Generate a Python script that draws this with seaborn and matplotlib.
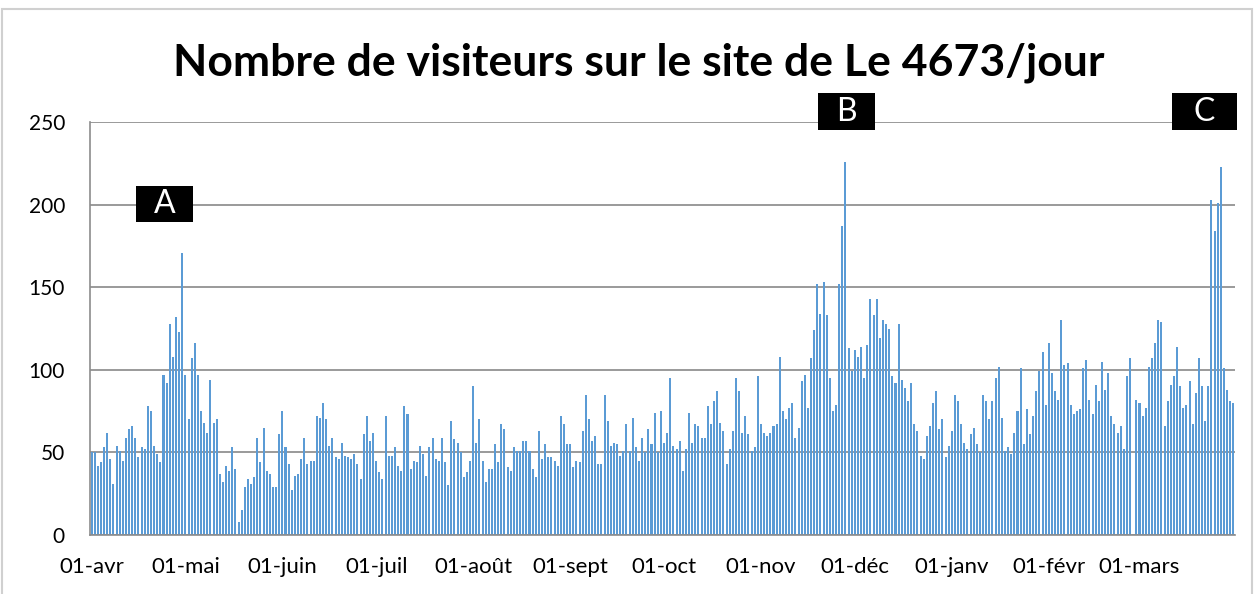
import pandas as pd
import seaborn as sns
import matplotlib.pyplot as plt
from matplotlib.patches import Rectangle

# daily visitors, 01-avr -> 31-mars (366 days)
avr = [50, 50, 42, 44, 53, 62, 46, 31, 54, 51, 45, 59, 64, 66, 59, 47, 53, 52, 78, 75,
       54, 49, 44, 97, 92, 128, 108, 132, 123, 171]
mai = [97, 70, 107, 116, 97, 75, 68, 62, 94, 68, 70, 37, 32, 42, 39, 53, 40, 8, 15, 29,
       34, 31, 35, 59, 44, 65, 39, 37, 29, 29, 61]
juin = [75, 53, 43, 27, 36, 37, 46, 59, 43, 45, 45, 72, 71, 80, 70, 54, 59, 47, 46, 56,
        48, 47, 46, 49, 43, 34, 61, 72, 57, 62]
juil = [45, 38, 34, 72, 48, 48, 53, 42, 39, 78, 73, 40, 45, 44, 54, 49, 36, 53, 59, 46,
        45, 59, 44, 30, 69, 58, 56, 50, 35, 38, 45]
aout = [90, 56, 70, 45, 32, 40, 40, 55, 44, 67, 64, 41, 39, 53, 51, 51, 57, 57, 51, 40,
        35, 63, 46, 55, 47, 47, 45, 42, 72, 67, 55]
sept = [55, 41, 45, 44, 63, 85, 70, 57, 60, 43, 43, 85, 69, 54, 56, 55, 48, 51, 67, 51,
        71, 53, 45, 59, 50, 64, 55, 74, 50, 75]
octo = [56, 62, 95, 54, 52, 57, 39, 52, 74, 56, 67, 66, 59, 59, 78, 67, 81, 87, 68, 63,
        43, 52, 63, 95, 87, 62, 72, 61, 51, 53, 96]
nov = [67, 62, 60, 62, 66, 67, 108, 75, 70, 77, 80, 59, 65, 93, 97, 77, 107, 124, 152, 134,
       153, 133, 95, 75, 79, 152, 187, 226, 113, 99]
dec = [112, 108, 114, 95, 115, 143, 133, 143, 119, 130, 128, 125, 96, 92, 128, 94, 89, 81, 92, 67,
       63, 48, 46, 60, 66, 80, 87, 64, 70, 47, 54]
janv = [63, 85, 81, 67, 56, 52, 61, 65, 55, 50, 85, 81, 70, 81, 95, 102, 71, 51, 53, 49,
        62, 75, 101, 55, 76, 61, 72, 87, 99, 111, 79]
fevr = [116, 98, 87, 82, 130, 103, 104, 79, 73, 75, 76, 101, 106, 82, 73, 91, 81, 105, 88, 98,
        72, 67, 62, 66, 52, 96, 107, 0, 82]
mars = [80, 72, 77, 102, 107, 116, 130, 129, 66, 81, 91, 96, 114, 90, 77, 79, 93, 67, 86, 107,
        90, 69, 90, 203, 184, 201, 223, 101, 88, 81, 80]

months = [avr, mai, juin, juil, aout, sept, octo, nov, dec, janv, fevr, mars]
month_labels = ["01-avr", "01-mai", "01-juin", "01-juil", "01-août", "01-sept",
                "01-oct", "01-nov", "01-déc", "01-janv", "01-févr", "01-mars"]

visitors = [v for m in months for v in m]
days = pd.date_range("2011-04-01", periods=len(visitors), freq="D")
df = pd.DataFrame({"jour": days.strftime("%Y-%m-%d"), "visiteurs": visitors})

sns.set_style("white")
plt.rcParams["font.family"] = ["Lato", "DejaVu Sans"]
plt.rcParams["text.color"] = "black"
plt.rcParams["xtick.labelcolor"] = "black"
plt.rcParams["ytick.labelcolor"] = "black"

fig = plt.figure(figsize=(12.55, 5.94), dpi=100)
ax = fig.add_axes([0.0717, 0.0993, 0.9123, 0.6953])

sns.barplot(data=df, x="jour", y="visiteurs", color="#5B9BD5", saturation=1,
            width=0.65, linewidth=0, ax=ax)

# month ticks
starts = [i for i, d in enumerate(days) if d.day == 1]
ax.set_xticks(starts)
ax.set_xticklabels(month_labels, fontsize=16)
ax.set_xlim(-0.5, len(visitors) - 0.5)
ax.set_ylim(0, 250)
ax.set_yticks(range(0, 251, 50))
ax.tick_params(axis="y", labelsize=15, length=4, color="#8c8c8c", pad=14)
ax.tick_params(axis="x", length=5, color="#8c8c8c", pad=11)
ax.yaxis.grid(True, color="#9a9a9a", linewidth=1.4)
ax.set_axisbelow(True)
ax.set_xlabel("")
ax.set_ylabel("")

for s in ["top", "right"]:
    ax.spines[s].set_visible(False)
for s in ["left", "bottom"]:
    ax.spines[s].set_color("#8c8c8c")
    ax.spines[s].set_linewidth(1.2)

fig.text(0.509, 0.895, "Nombre de visiteurs sur le site de Le 4673/jour",
         ha="center", va="center", fontsize=32, fontweight="bold", color="black")

# A / B / C markers (image px -> axes fraction)
def px_box(x0, x1, y0, y1, label):
    ax_l, ax_r, ax_t, ax_b = 90, 1235, 122, 535
    fx = (x0 - ax_l) / (ax_r - ax_l)
    fw = (x1 - x0) / (ax_r - ax_l)
    fy = (ax_b - y1) / (ax_b - ax_t)
    fh = (y1 - y0) / (ax_b - ax_t)
    ax.add_patch(Rectangle((fx, fy), fw, fh, transform=ax.transAxes,
                           facecolor="black", edgecolor="none", clip_on=False, zorder=5))
    ax.text(fx + fw / 2, fy + fh / 2, label, transform=ax.transAxes, color="white",
            ha="center", va="center", fontsize=23, zorder=6)

px_box(136, 193, 186, 222, "A")
px_box(818, 875, 93, 130, "B")
px_box(1172, 1237, 93, 130, "C")

fig.patches.append(Rectangle((0.0015, -0.1), 0.996, 1.085, transform=fig.transFigure,
                             facecolor="none", edgecolor="#d0d0d0", linewidth=1.5))

fig.savefig("out.png", dpi=100)
